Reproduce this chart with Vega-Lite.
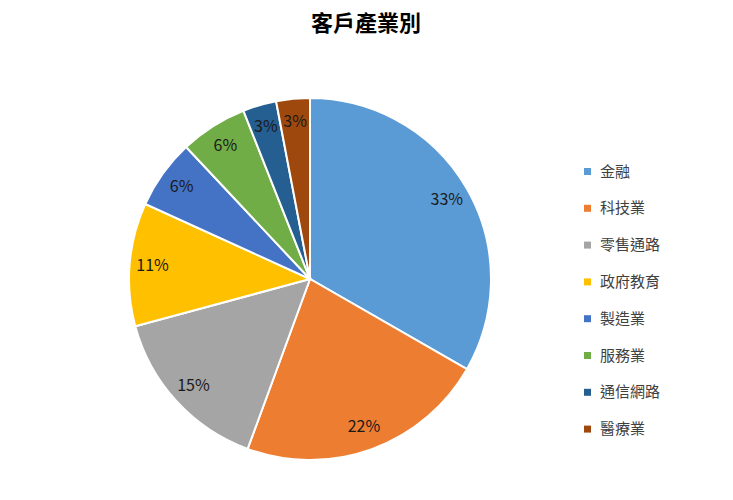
{
  "$schema": "https://vega.github.io/schema/vega-lite/v6.json",
  "autosize": "none",
  "width": 380,
  "height": 380,
  "padding": {"left": 120, "top": 89, "right": 233, "bottom": 31},
  "background": "white",
  "title": {
    "text": "客戶產業別",
    "font": "Noto Sans CJK TC",
    "fontSize": 22,
    "fontWeight": "bold",
    "color": "#000000",
    "anchor": "middle",
    "dx": 56,
    "offset": 53
  },
  "data": {
    "values": [
      {"industry": "金融", "share": 33.3, "label": "33%", "rank": 1},
      {"industry": "科技業", "share": 22.3, "label": "22%", "rank": 2},
      {"industry": "零售通路", "share": 15.2, "label": "15%", "rank": 3},
      {"industry": "政府教育", "share": 11.0, "label": "11%", "rank": 4},
      {"industry": "製造業", "share": 6.2, "label": "6%", "rank": 5},
      {"industry": "服務業", "share": 6.0, "label": "6%", "rank": 6},
      {"industry": "通信網路", "share": 3.0, "label": "3%", "rank": 7},
      {"industry": "醫療業", "share": 3.0, "label": "3%", "rank": 8}
    ]
  },
  "encoding": {
    "theta": {"field": "share", "type": "quantitative", "stack": true},
    "order": {"field": "rank", "type": "quantitative"}
  },
  "layer": [
    {
      "mark": {"type": "arc", "outerRadius": 181, "stroke": "white", "strokeWidth": 2},
      "encoding": {
        "color": {
          "field": "industry",
          "type": "nominal",
          "sort": ["金融", "科技業", "零售通路", "政府教育", "製造業", "服務業", "通信網路", "醫療業"],
          "scale": {
            "domain": ["金融", "科技業", "零售通路", "政府教育", "製造業", "服務業", "通信網路", "醫療業"],
            "range": ["#5B9BD5", "#ED7D31", "#A5A5A5", "#FFC000", "#4472C4", "#70AD47", "#255E91", "#9E480E"]
          },
          "legend": {
            "title": null,
            "orient": "none",
            "legendX": 460,
            "legendY": 75,
            "symbolType": "square",
            "symbolSize": 49,
            "symbolStrokeWidth": 0,
            "labelFont": "Noto Sans CJK TC",
            "labelFontSize": 15,
            "labelColor": "#404040",
            "labelOffset": 5,
            "rowPadding": 20.8
          }
        }
      }
    },
    {
      "mark": {"type": "text", "radius": 158, "font": "Noto Sans CJK TC", "fontSize": 16, "color": "#1a1a1a"},
      "encoding": {
        "text": {"field": "label", "type": "nominal"}
      }
    }
  ]
}
